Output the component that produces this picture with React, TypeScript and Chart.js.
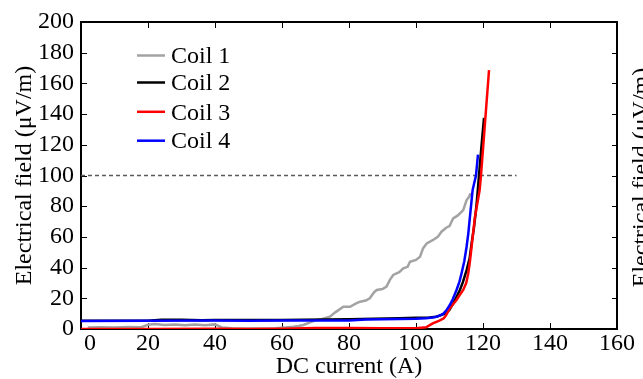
import React, { useEffect, useRef } from 'react';
import { Chart, registerables } from 'chart.js';

Chart.register(...registerables);

const FONT = "'Liberation Serif', 'Times New Roman', serif";

const coilNames = ['Coil 1', 'Coil 2', 'Coil 3', 'Coil 4'];
const coilColors = ['#a3a3a3', '#000000', '#ff0000', '#0000ff'];

const coil1Current = [2, 6, 10, 14, 18, 20, 22, 25, 28, 31, 34, 37, 40, 42, 45, 50, 55, 58, 61, 63.4, 65, 66.4, 68, 70.4, 72, 74.3, 76, 78.3, 80.3, 82, 83.3, 85, 86.2, 87.5, 88.3, 90, 91.2, 92.2, 93.2, 95, 96.2, 97.5, 98.2, 100, 101.2, 102.1, 103.2, 105.1, 106.5, 107.6, 109, 110, 111.1, 112.5, 114.1, 115.1, 115.8, 116.3];
const coil1Field = [1, 1.2, 1, 1.3, 1.2, 2.8, 3.2, 2.6, 3, 2.4, 3, 2.5, 3, 1, 0.5, 0.3, 0.3, 0.5, 1, 1.5, 2, 2.6, 4, 5.9, 6.5, 8, 11, 14.5, 14.5, 16.5, 17.8, 18.5, 20, 24, 25.4, 26, 27.6, 32, 35.2, 37, 39.5, 40.5, 43.8, 45, 47.1, 52.5, 55.8, 58, 60, 63.4, 66, 67, 72.1, 74, 77.5, 84, 86, 88.5];

const coil2Current = [0, 20, 24, 30, 36, 40, 60, 80, 95, 100, 104, 106, 107.5, 109.1, 110, 111.1, 112, 113.1, 114, 115.1, 116, 116.6, 117.3, 117.9, 118.2, 118.8, 119.5, 120.3];
const coil2Field = [5.3, 5.4, 6.0, 6.0, 5.7, 5.8, 5.8, 6.3, 7.0, 7.3, 7.5, 8, 9, 10.5, 12.5, 16.7, 20.5, 25.4, 30.5, 38.4, 46, 55.8, 66, 77.5, 84, 100, 118, 137.6];

const coil3Current = [0, 20, 40, 50, 60, 70, 80, 90, 100, 103, 105, 107, 108.3, 109, 110.1, 111, 112.1, 113, 114.1, 115, 115.6, 116.1, 116.6, 117.6, 119, 119.4, 121.8];
const coil3Field = [0, 0, 0.2, 0, 0.2, 0.6, 0.6, 0.5, 0.5, 1.1, 3.7, 5.4, 7, 9, 13.5, 16, 18.9, 22, 25.4, 30, 36.3, 44, 53.6, 73, 90.5, 100, 168.7];

const coil4Current = [0, 20, 40, 50, 60, 70, 80, 85, 90, 95, 100, 103, 105, 106.5, 108.1, 109, 110.1, 111, 112.1, 113, 113.6, 114.4, 115.1, 115.6, 116.1, 116.9, 117.9, 118.5];
const coil4Field = [5.2, 5.3, 5.5, 5.4, 5.5, 5.6, 5.6, 6.2, 6.3, 6.5, 6.7, 7, 7.5, 8.2, 9.8, 12, 15.6, 19.5, 25.4, 31, 36.3, 44, 53.6, 62, 73, 90.5, 100, 113.6];

const thresholdCurrent = [0, 130];
const thresholdField = [100, 100];

const xTickValues = [0, 20, 40, 60, 80, 100, 120, 140, 160];
const yTickValues = [0, 20, 40, 60, 80, 100, 120, 140, 160, 180, 200];

const xTitle = 'DC current (A)';
const yTitle = 'Electrical field (\u03bcV/m)';

const legendRowsY = [57, 84, 113.3, 142.2];

const zip = (xs: number[], ys: number[]) => xs.map((x, i) => ({ x, y: ys[i] }));

const framePlugin = {
  id: 'frame',
  beforeDatasetsDraw(chart: any) {
    const { ctx, chartArea, scales } = chart;
    const { left, top, right, bottom } = chartArea;
    ctx.save();
    ctx.strokeStyle = '#000';
    ctx.lineWidth = 1;
    ctx.beginPath();
    xTickValues.forEach((v) => {
      if (v <= scales.x.min || v >= scales.x.max) return;
      const px = Math.round(scales.x.getPixelForValue(v)) + 0.5;
      ctx.moveTo(px, bottom);
      ctx.lineTo(px, bottom - 6);
      ctx.moveTo(px, top);
      ctx.lineTo(px, top + 6);
    });
    yTickValues.forEach((v) => {
      if (v <= scales.y.min || v >= scales.y.max) return;
      const py = Math.round(scales.y.getPixelForValue(v)) + 0.5;
      ctx.moveTo(left, py);
      ctx.lineTo(left + 6, py);
      ctx.moveTo(right, py);
      ctx.lineTo(right - 5, py);
    });
    ctx.stroke();
    ctx.lineWidth = 2;
    ctx.strokeRect(left, top, right - left, bottom - top);
    ctx.restore();
  },
  afterDraw(chart: any) {
    const { ctx } = chart;
    ctx.save();
    ctx.font = `24px ${FONT}`;
    ctx.textBaseline = 'middle';
    ctx.textAlign = 'left';
    coilNames.forEach((name, i) => {
      const y = legendRowsY[i];
      ctx.strokeStyle = coilColors[i];
      ctx.lineWidth = 2.5;
      ctx.beginPath();
      ctx.moveTo(137, y - 1.5);
      ctx.lineTo(165, y - 1.5);
      ctx.stroke();
      ctx.fillStyle = '#000';
      ctx.fillText(name, 171, y);
    });
    // clipped axis title of a neighbouring panel at the right edge
    ctx.translate(642, chart.chartArea.top + (chart.chartArea.bottom - chart.chartArea.top) / 2 + 2);
    ctx.rotate(-Math.PI / 2);
    ctx.textAlign = 'center';
    ctx.fillText(yTitle, 0, 0);
    ctx.restore();
  },
};

export default function App() {
  const ref = useRef<HTMLCanvasElement>(null);
  useEffect(() => {
    if (!ref.current) return;
    const lineDs = (i: number, xs: number[], ys: number[], order: number) => ({
      label: coilNames[i],
      data: zip(xs, ys),
      borderColor: coilColors[i],
      backgroundColor: coilColors[i],
      borderWidth: 2.5,
      pointRadius: 0,
      tension: 0,
      fill: false,
      order,
    });
    const chart = new Chart(ref.current, {
      type: 'line',
      data: {
        datasets: [
          lineDs(0, coil1Current, coil1Field, 3),
          lineDs(1, coil2Current, coil2Field, 2),
          lineDs(2, coil3Current, coil3Field, 1),
          lineDs(3, coil4Current, coil4Field, 0),
          {
            label: 'threshold',
            data: zip(thresholdCurrent, thresholdField),
            borderColor: '#5a5a5a',
            borderWidth: 1.5,
            borderDash: [4, 3],
            pointRadius: 0,
            fill: false,
            order: 5,
          } as any,
        ],
      },
      options: {
        responsive: false,
        animation: false,
        devicePixelRatio: 1,
        layout: { padding: { top: 22, right: 26, bottom: 0, left: 0 } },
        plugins: { legend: { display: false }, tooltip: { enabled: false } },
        scales: {
          x: {
            type: 'linear',
            min: 0,
            max: 160,
            grid: { display: false, drawTicks: false },
            border: { display: false },
            afterBuildTicks: (s: any) => { s.ticks = xTickValues.map((v) => ({ value: v })); },
            afterFit: (s: any) => { s.height = 50; },
            ticks: {
              padding: 0,
              color: '#000',
              font: { family: FONT, size: 24 },
              maxRotation: 0,
              autoSkip: false,
              callback: (v: any) => (v === 0 ? '\u2002 0' : String(v)),
            },
            title: {
              display: true,
              text: xTitle,
              color: '#000',
              font: { family: FONT, size: 24, lineHeight: 1 },
              padding: { top: 0, bottom: 0 },
            },
          },
          y: {
            type: 'linear',
            min: 0,
            max: 200,
            grid: { display: false, drawTicks: false },
            border: { display: false },
            afterBuildTicks: (s: any) => { s.ticks = yTickValues.map((v) => ({ value: v })); },
            afterFit: (s: any) => { s.width = 81; },
            ticks: {
              padding: 7,
              color: '#000',
              font: { family: FONT, size: 24 },
              autoSkip: false,
            },
            title: {
              display: true,
              text: yTitle,
              color: '#000',
              font: { family: FONT, size: 24, lineHeight: 1 },
              padding: { top: 13, bottom: 0 },
            },
          },
        },
      },
      plugins: [framePlugin],
    });
    return () => chart.destroy();
  }, []);
  return (
    <div style={{ position: 'absolute', left: 0, top: 0, width: 643, height: 379, background: '#fff' }}>
      <canvas ref={ref} width={643} height={379} style={{ display: 'block' }} />
    </div>
  );
}
